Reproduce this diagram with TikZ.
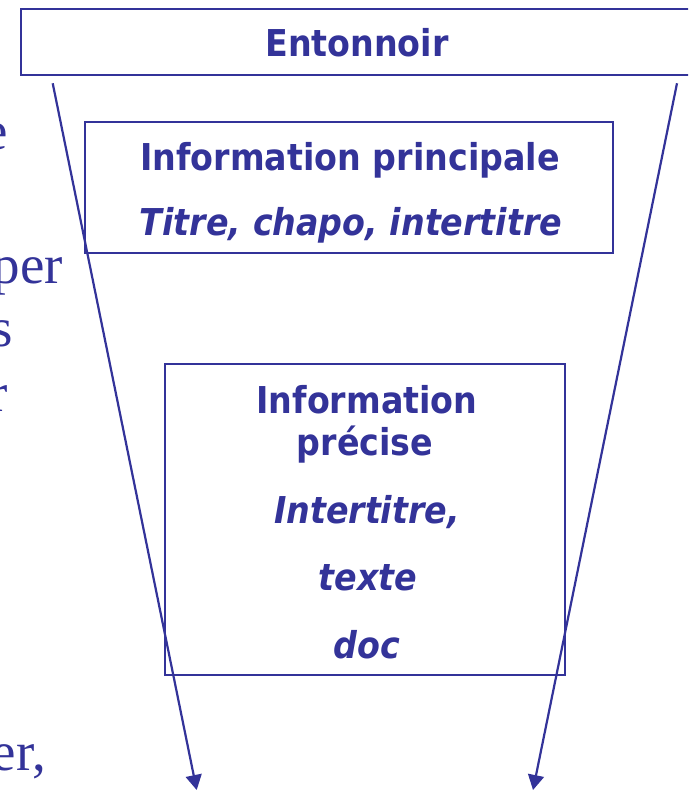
\documentclass[tikz,border=0pt]{standalone}
\usepackage{fontspec}
\setmainfont{Liberation Serif}
\newfontfamily\boxfont[FakeStretch=0.9]{DejaVu Sans}
\usetikzlibrary{arrows.meta}
\definecolor{funnelblue}{RGB}{51,51,153}

\begin{document}
\begin{tikzpicture}[x=1pt,y=-1pt,
  every node/.style={inner sep=0pt, outer sep=0pt},
  frame/.style={draw=funnelblue, line width=2pt, rectangle},
  boxtext/.style={text=funnelblue, anchor=base,
    font=\boxfont\bfseries\fontsize{37}{44}\selectfont},
  boxital/.style={boxtext,
    font=\boxfont\bfseries\itshape\fontsize{37}{44}\selectfont},
  sidetext/.style={text=funnelblue, anchor=base east,
    font=\fontsize{55}{66}\selectfont},
  flow/.style={draw=funnelblue, line width=2.2pt,
    -{Triangle[length=15pt,width=16pt]}}]

\useasboundingbox (0,0) rectangle (688,791);
\clip (0,0) rectangle (688,791);

% word endings of the body text on the left
\node[sidetext] (w1) at (8,150) {e};
\node[sidetext] (w2) at (63,283) {per};
\node[sidetext] (w3) at (13,346) {s};
\node[sidetext] (w4) at (8,411) {r};
\node[sidetext] (w5) at (46,770) {er,};

% the three frames
\node[frame, minimum width=673.3pt, minimum height=65.4pt] (funnel) at (357.3,42) {};
\node[frame, minimum width=528pt, minimum height=131.5pt] (main) at (349,187.75) {};
\node[frame, minimum width=400.5pt, minimum height=311pt] (detail) at (364.75,519.5) {};

% frame texts
\node[boxtext] (t0) at (357,57) {Entonnoir};
\node[boxtext] (t1) at (350,171) {Information principale};
\node[boxital] (t2) at (351,236) {Titre, chapo, intertitre};
\node[boxtext] (t3) at (367,413) {Information};
\node[boxtext] (t4) at (365,455) {précise};
\node[boxital] (t5) at (367,523) {Intertitre,};
\node[boxital] (t6) at (368,590) {texte};
\node[boxital] (t7) at (367,658) {doc};

% funnel sides
\coordinate (lt) at (52.7,83.3);
\coordinate (lb) at (196.7,790);
\coordinate (rt) at (677,83.3);
\coordinate (rb) at (533,790);
\draw[flow] (lt) -- (lb);
\draw[flow] (rt) -- (rb);
\end{tikzpicture}
\end{document}
